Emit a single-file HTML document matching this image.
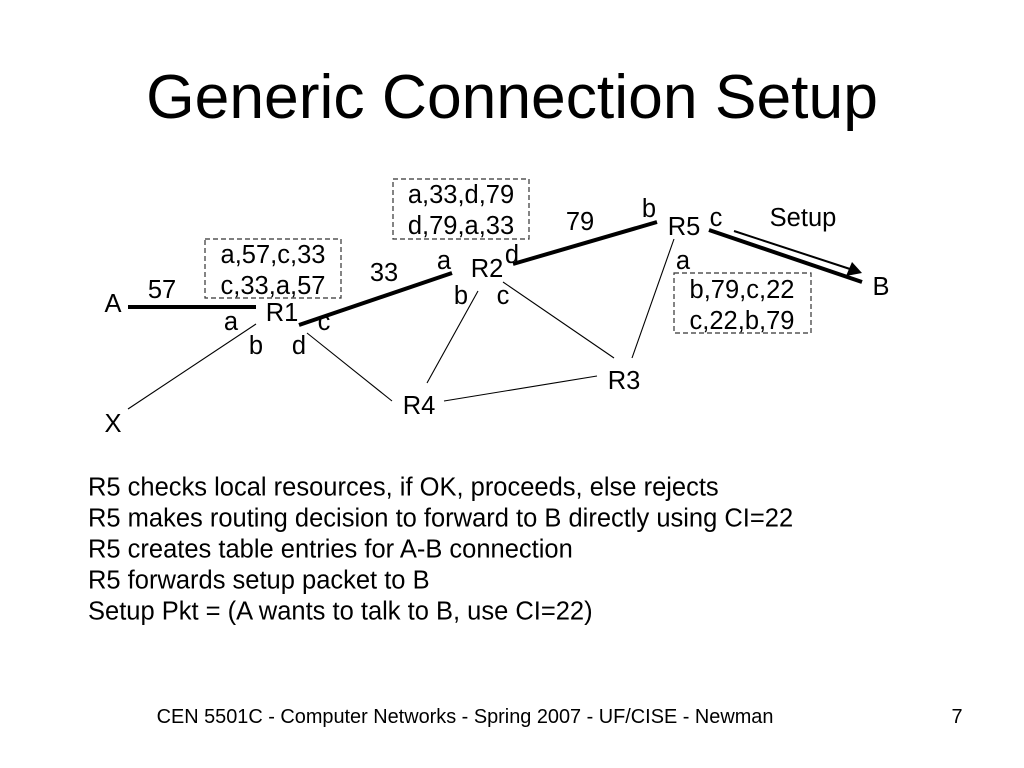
<!DOCTYPE html>
<html><head><meta charset="utf-8"><style>
html,body{margin:0;padding:0;background:#fff}
svg{display:block}
text{font-family:"Liberation Sans",sans-serif;fill:#000}
.l{font-size:25.5px}
.c{text-anchor:middle}
</style></head><body>
<svg width="1024" height="768" viewBox="0 0 1024 768" xmlns="http://www.w3.org/2000/svg">
<text x="512" y="118" class="c" style="font-size:62.4px">Generic Connection Setup</text>

<g fill="none" stroke="#333" stroke-width="1.2" stroke-dasharray="5 3">
<rect x="205" y="239" width="136" height="59"/>
<rect x="393" y="179" width="136" height="60"/>
<rect x="674" y="273" width="137" height="60"/>
</g>

<g stroke="#000" stroke-width="4" fill="none">
<line x1="128" y1="307" x2="256" y2="307"/>
<line x1="299" y1="325" x2="452" y2="273"/>
<line x1="513" y1="264" x2="657" y2="222"/>
<line x1="709" y1="230" x2="862" y2="282"/>
</g>
<g stroke="#000" stroke-width="1.1" fill="none">
<line x1="128" y1="409" x2="256" y2="324"/>
<line x1="307" y1="333" x2="392" y2="401"/>
<line x1="427" y1="383" x2="478" y2="291"/>
<line x1="444" y1="401" x2="597" y2="376"/>
<line x1="503" y1="282" x2="614" y2="358"/>
<line x1="674" y1="239" x2="632" y2="358"/>
</g>
<line x1="734" y1="231" x2="850" y2="269" stroke="#000" stroke-width="2"/>
<polygon points="862,273 846,276 852,262" fill="#000"/>

<g class="l">
<text class="l c" x="273" y="263">a,57,c,33</text>
<text class="l c" x="273" y="294">c,33,a,57</text>
<text class="l c" x="461" y="203">a,33,d,79</text>
<text class="l c" x="461" y="234">d,79,a,33</text>
<text class="l c" x="742" y="298">b,79,c,22</text>
<text class="l c" x="742" y="329">c,22,b,79</text>

<text class="l c" x="113" y="312">A</text>
<text class="l c" x="162" y="298">57</text>
<text class="l c" x="231" y="330">a</text>
<text class="l c" x="282" y="321">R1</text>
<text class="l c" x="324" y="330">c</text>
<text class="l c" x="256" y="354">b</text>
<text class="l c" x="299" y="354">d</text>
<text class="l c" x="384" y="281">33</text>
<text class="l c" x="444" y="269">a</text>
<text class="l c" x="487" y="277">R2</text>
<text class="l c" x="512" y="263">d</text>
<text class="l c" x="461" y="304">b</text>
<text class="l c" x="503" y="304">c</text>
<text class="l c" x="580" y="230">79</text>
<text class="l c" x="649" y="217">b</text>
<text class="l c" x="684" y="235">R5</text>
<text class="l c" x="716" y="226">c</text>
<text class="l c" x="803" y="226">Setup</text>
<text class="l c" x="683" y="269">a</text>
<text class="l c" x="881" y="295">B</text>
<text class="l c" x="624" y="389">R3</text>
<text class="l c" x="419" y="414">R4</text>
<text class="l c" x="113" y="432">X</text>
</g>

<text class="l" x="88" y="495.5">R5 checks local resources, if OK, proceeds, else rejects</text>
<text class="l" x="88" y="526.5">R5 makes routing decision to forward to B directly using CI=22</text>
<text class="l" x="88" y="557.5">R5 creates table entries for A-B connection</text>
<text class="l" x="88" y="588.5">R5 forwards setup packet to B</text>
<text class="l" x="88" y="619.5">Setup Pkt = (A wants to talk to B, use CI=22)</text>

<text x="465" y="723" class="c" style="font-size:19.9px">CEN 5501C - Computer Networks - Spring 2007 - UF/CISE - Newman</text>
<text x="957" y="723" class="c" style="font-size:19.9px">7</text>
</svg>
</body></html>
